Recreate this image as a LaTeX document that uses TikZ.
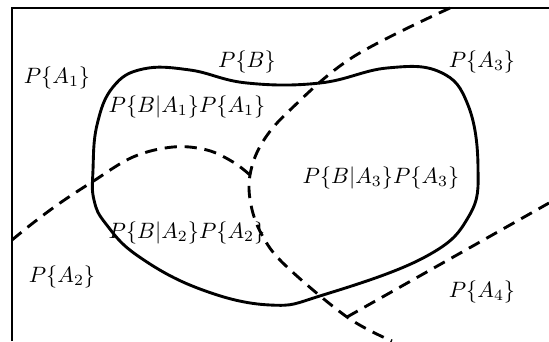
\documentclass[tikz,border=0pt]{standalone}
\tikzset{
    pb frame/.style={line width=1.3pt},
    pb event/.style={line width=1.3pt, line join=round},
    pb split/.style={line width=1.3pt, dash pattern=on 5.5pt off 3.5pt},
    pb label/.style={inner sep=1pt},
}
\begin{document}
\begin{tikzpicture}[x=0.45pt, y=-0.45pt]
    \useasboundingbox (0,0) rectangle (549,341);
    % Sample space (cut off at right and bottom)
    \draw[pb frame] (12,341) -- (12,8) -- (549,8);
    % Event B
    \draw[pb event] plot[smooth cycle, tension=0.7] coordinates {
        (93,170) (97,125) (113,87) (143,69) (190,70) (247,83) (320,83)
        (387,68) (440,72) (468,105) (478,167) (469,216) (425,257)
        (323,295) (270,305) (200,289) (138,256) (106,224) (94,200)};
    % Partition boundaries
    \coordinate (top13) at (450,8);
    \coordinate (left12) at (12,240);
    \coordinate (j123) at (250,175);
    \coordinate (j34) at (347,317);
    \coordinate (bot34) at (392,341);
    \coordinate (right34) at (549,203);
    \draw[pb split] plot[smooth, tension=0.6] coordinates {
        (top13) (353,57) (290,110) (262,143) (j123) (251,205) (262,235)
        (285,265) (j34) (bot34)};
    \draw[pb split] plot[smooth, tension=0.6] coordinates {
        (left12) (33,223) (60,203) (92,182) (133,157) (173,147) (207,150)
        (233,162) (j123)};
    \draw[pb split] (j34) -- (right34);
    % Labels
    \node[pb label] (a1) at (57,78) {$P\{A_1\}$};
    \node[pb label] (b) at (247,62) {$P\{B\}$};
    \node[pb label] (a3) at (482,62) {$P\{A_3\}$};
    \node[pb label] (ba1) at (187,107) {$P\{B|A_1\}P\{A_1\}$};
    \node[pb label] (ba3) at (381,178) {$P\{B|A_3\}P\{A_3\}$};
    \node[pb label] (ba2) at (187,233) {$P\{B|A_2\}P\{A_2\}$};
    \node[pb label] (a2) at (62,277) {$P\{A_2\}$};
    \node[pb label] (a4) at (482,292) {$P\{A_4\}$};
\end{tikzpicture}
\end{document}
